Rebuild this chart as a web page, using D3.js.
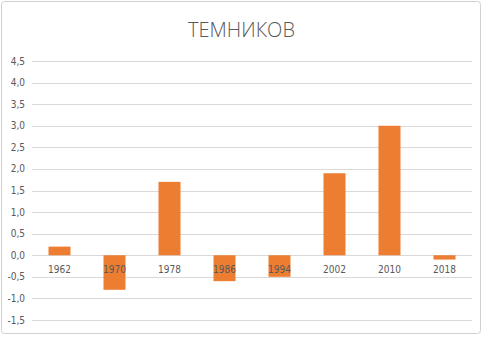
<!DOCTYPE html>
<html>
<head>
<meta charset="utf-8">
<script src="https://cdn.jsdelivr.net/npm/d3@7.9.0/dist/d3.min.js"></script>
<style>
  body { margin: 0; background: #fff; }
  svg text { font-family: "Liberation Sans Narrow", "DejaVu Sans Condensed", sans-serif; fill: #595959; }
</style>
</head>
<body>
<svg width="483" height="337"></svg>
<script>
const years = ['1962', '1970', '1978', '1986', '1994', '2002', '2010', '2018'];
const values = [0.2, -0.8, 1.7, -0.6, -0.5, 1.9, 3.0, -0.1];
const yTicks = [-1.5, -1.0, -0.5, 0, 0.5, 1.0, 1.5, 2.0, 2.5, 3.0, 3.5, 4.0, 4.5];
const title = 'ТЕМНИКОВ';

const svg = d3.select('svg');
const margin = { left: 32, right: 11, top: 61, bottom: 17 };
const W = 483, H = 337;

// outer frame
svg.append('rect')
    .attr('x', 1.5).attr('y', 1.5)
    .attr('width', W - 4).attr('height', H - 5)
    .attr('rx', 3)
    .attr('fill', '#fff')
    .attr('stroke', '#d0d0d0');

const x = d3.scaleBand()
    .domain(years)
    .range([margin.left, W - margin.right])
    .paddingInner(0.6)
    .paddingOuter(0.3);

const y = d3.scaleLinear()
    .domain([-1.5, 4.5])
    .range([320, margin.top]);

// gridlines
svg.append('g')
    .selectAll('line')
    .data(yTicks)
    .join('line')
    .attr('x1', margin.left).attr('x2', W - margin.right)
    .attr('y1', d => Math.round(y(d)) + 0.5)
    .attr('y2', d => Math.round(y(d)) + 0.5)
    .attr('stroke', '#d9d9d9')
    .attr('stroke-width', 1);

// y labels
const fmt = d => d3.format('.1f')(d).replace('.', ',').replace('−', '-');
svg.append('g')
    .selectAll('text')
    .data(yTicks)
    .join('text')
    .attr('x', 25)
    .attr('y', d => y(d) + 3.5)
    .attr('text-anchor', 'end')
    .attr('font-size', 10)
    .text(fmt);

// bars
svg.append('g')
    .selectAll('rect')
    .data(values)
    .join('rect')
    .attr('x', (d, i) => x(years[i]))
    .attr('width', x.bandwidth())
    .attr('y', d => y(Math.max(0, d)))
    .attr('height', d => Math.abs(y(d) - y(0)))
    .attr('fill', '#ed7d31');

// category labels
svg.append('g')
    .selectAll('text')
    .data(years)
    .join('text')
    .attr('x', d => x(d) + x.bandwidth() / 2)
    .attr('y', y(0) + 18)
    .attr('text-anchor', 'middle')
    .attr('font-size', 10)
    .text(d => d);

// title
svg.append('text')
    .attr('x', W / 2)
    .attr('y', 37)
    .attr('text-anchor', 'middle')
    .attr('font-size', 20)
    .style('font-family', '"Open Sans", sans-serif')
    .style('font-weight', 300)
    .text(title);
</script>
</body>
</html>
